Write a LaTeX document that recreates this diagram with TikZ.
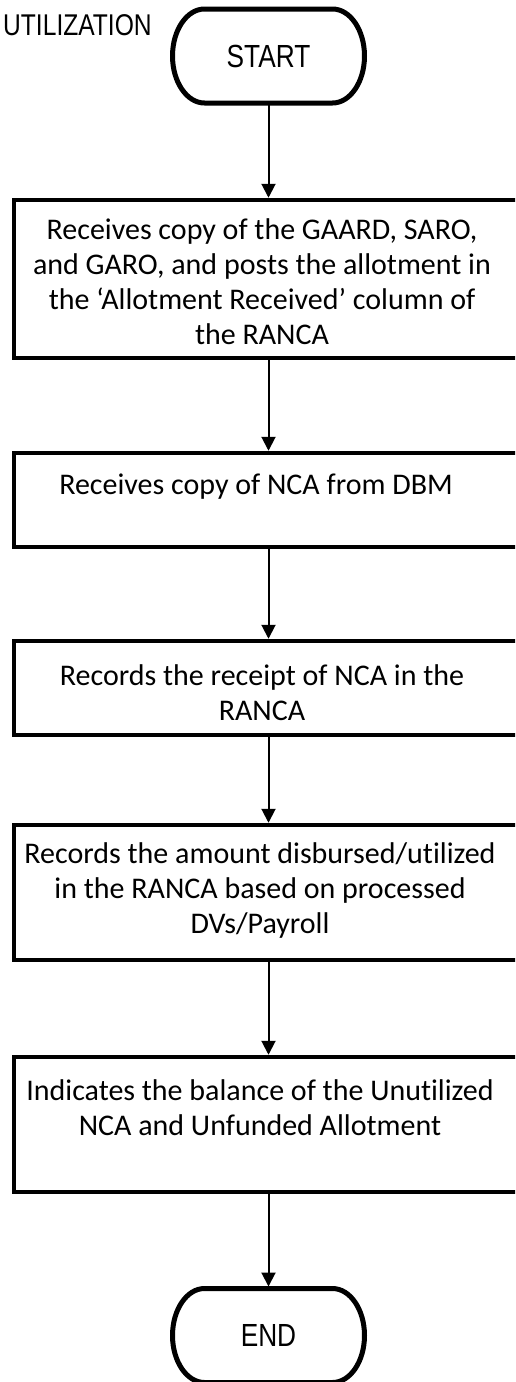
\documentclass[tikz,border=0pt]{standalone}
\usepackage{fontspec}
\usepackage{graphicx}
\usepackage{tikz}
\usetikzlibrary{arrows.meta}
\setmainfont[Ligatures=NoCommon]{Carlito}
\newfontfamily\arialfont{Liberation Sans}
\newcommand{\narrow}[1]{\scalebox{0.82}[1]{#1}}
% rounded ends of the START/END shapes
\newcommand{\termpath}[2]{%
  \draw[termline] ([xshift=32pt]#1.north west) -- ([xshift=-32pt]#1.north east)
    arc[start angle=90, end angle=-90, x radius=32pt, y radius=#2]
    -- ([xshift=32pt]#1.south west)
    arc[start angle=270, end angle=90, x radius=32pt, y radius=#2] -- cycle;}
\tikzset{
  term/.style={inner sep=0pt, outer sep=0pt, minimum width=192pt,
    font=\arialfont\fontsize{32}{38}\selectfont},
  termline/.style={line width=5pt},
  stepbox/.style={draw, line width=4.5pt, minimum width=508pt},
  steptext/.style={anchor=north, inner sep=0pt, align=center,
    font=\fontsize{30}{35}\selectfont},
  arr/.style={line width=2pt, -{Triangle[width=14pt,length=14pt]}}
}
\begin{document}
\begin{tikzpicture}[x=1pt,y=1pt]
\useasboundingbox (0,0) rectangle (515,-1382);
\clip (0,0) rectangle (515,-1382);
% title and terminals
\node [anchor=base west, inner sep=0pt, font=\arialfont\fontsize{30}{36}\selectfont] (title) at (3,-35) {\narrow{UTILIZATION}};
\node [term, minimum height=94pt] (start) at (268.5,-56) {\narrow{START}};
\termpath{start}{47pt}
\node [term, minimum height=94pt] (end) at (268.5,-1335.5) {\narrow{END}};
\termpath{end}{47pt}
% process boxes
\node [stepbox, minimum height=158pt] (b1) at (268,-279) {};
\node [stepbox, minimum height=94pt] (b2) at (268,-500) {};
\node [stepbox, minimum height=94pt] (b3) at (268,-688) {};
\node [stepbox, minimum height=135pt] (b4) at (268,-892.5) {};
\node [stepbox, minimum height=135pt] (b5) at (268,-1124.5) {};
\node [steptext] (t1) at ([xshift=-6pt,yshift=-21pt]b1.north) {Receives copy of the GAARD, SARO,\\and GARO, and posts the allotment in\\the ‘Allotment Received’ column of\\the RANCA};
\node [steptext] (t2) at ([xshift=-12pt,yshift=-23pt]b2.north) {Receives copy of NCA from DBM};
\node [steptext] (t3) at ([xshift=-6pt,yshift=-26pt]b3.north) {Records the receipt of NCA in the\\RANCA};
\node [steptext] (t4) at ([xshift=-8pt,yshift=-20pt]b4.north) {Records the amount disbursed/utilized\\in the RANCA based on processed\\DVs/Payroll};
\node [steptext] (t5) at ([xshift=-8pt,yshift=-25pt]b5.north) {Indicates the balance of the Unutilized\\NCA and Unfunded Allotment};
% arrows
\draw [arr] (start.south) -- (start.south |- b1.north);
\draw [arr] (b1.south -| start) -- (b2.north -| start);
\draw [arr] (b2.south -| start) -- (b3.north -| start);
\draw [arr] (b3.south -| start) -- (b4.north -| start);
\draw [arr] (b4.south -| start) -- (b5.north -| start);
\draw [arr] (b5.south -| start) -- ([yshift=2pt]end.north);
\end{tikzpicture}
\end{document}
